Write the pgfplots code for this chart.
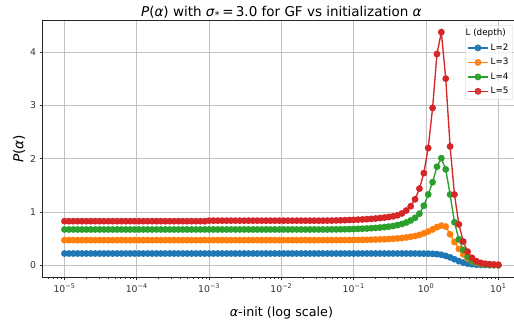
\documentclass[border=0pt]{standalone}
\usepackage{fontspec}
\setmainfont{DejaVu Sans}
\usepackage{pgfplots}
\usepackage{pgfplotstable}
\pgfplotsset{compat=1.18}
\definecolor{c0}{HTML}{1F77B4}
\definecolor{c1}{HTML}{FF7F0E}
\definecolor{c2}{HTML}{2CA02C}
\definecolor{c3}{HTML}{D62728}
\pgfplotstableread{
a b c d e
1.000e-5 0.225 0.475 0.675 0.830
1.150e-5 0.225 0.475 0.675 0.830
1.322e-5 0.225 0.475 0.675 0.830
1.520e-5 0.225 0.475 0.675 0.830
1.748e-5 0.225 0.475 0.675 0.830
2.009e-5 0.225 0.475 0.675 0.830
2.310e-5 0.225 0.475 0.675 0.830
2.656e-5 0.225 0.475 0.675 0.830
3.054e-5 0.225 0.475 0.675 0.830
3.511e-5 0.225 0.475 0.675 0.830
4.037e-5 0.225 0.475 0.675 0.830
4.642e-5 0.225 0.475 0.675 0.830
5.337e-5 0.225 0.475 0.675 0.830
6.136e-5 0.225 0.475 0.675 0.830
7.055e-5 0.225 0.475 0.675 0.830
8.111e-5 0.225 0.475 0.675 0.830
9.326e-5 0.225 0.475 0.675 0.830
1.072e-4 0.225 0.475 0.675 0.830
1.233e-4 0.225 0.475 0.675 0.830
1.417e-4 0.225 0.475 0.675 0.830
1.630e-4 0.225 0.475 0.675 0.830
1.874e-4 0.225 0.475 0.675 0.830
2.154e-4 0.225 0.475 0.675 0.830
2.477e-4 0.225 0.475 0.675 0.830
2.848e-4 0.225 0.475 0.675 0.830
3.275e-4 0.225 0.475 0.675 0.830
3.765e-4 0.225 0.475 0.675 0.830
4.329e-4 0.225 0.475 0.675 0.830
4.977e-4 0.225 0.475 0.675 0.830
5.722e-4 0.225 0.475 0.675 0.830
6.579e-4 0.225 0.475 0.675 0.830
7.565e-4 0.225 0.475 0.675 0.830
8.697e-4 0.225 0.475 0.675 0.830
1.000e-3 0.225 0.475 0.675 0.840
1.150e-3 0.225 0.475 0.675 0.840
1.322e-3 0.225 0.475 0.675 0.840
1.520e-3 0.225 0.475 0.675 0.840
1.748e-3 0.225 0.475 0.675 0.840
2.009e-3 0.225 0.475 0.675 0.840
2.310e-3 0.225 0.475 0.675 0.840
2.656e-3 0.225 0.475 0.675 0.840
3.054e-3 0.225 0.475 0.675 0.840
3.511e-3 0.225 0.475 0.675 0.840
4.037e-3 0.225 0.475 0.675 0.840
4.642e-3 0.225 0.475 0.675 0.840
5.337e-3 0.225 0.475 0.675 0.840
6.136e-3 0.225 0.475 0.675 0.840
7.055e-3 0.225 0.475 0.675 0.840
8.111e-3 0.225 0.475 0.675 0.840
9.326e-3 0.225 0.475 0.675 0.840
1.072e-2 0.225 0.475 0.675 0.840
1.233e-2 0.225 0.475 0.675 0.840
1.417e-2 0.225 0.475 0.675 0.840
1.630e-2 0.225 0.475 0.675 0.840
1.874e-2 0.225 0.475 0.675 0.840
2.154e-2 0.225 0.475 0.675 0.840
2.477e-2 0.225 0.475 0.675 0.840
2.848e-2 0.225 0.475 0.675 0.840
3.275e-2 0.225 0.475 0.675 0.840
3.765e-2 0.225 0.475 0.675 0.840
4.329e-2 0.225 0.475 0.675 0.841
4.977e-2 0.225 0.475 0.676 0.842
5.722e-2 0.225 0.476 0.677 0.844
6.579e-2 0.225 0.476 0.678 0.846
7.565e-2 0.225 0.477 0.679 0.849
8.697e-2 0.225 0.477 0.681 0.852
0.1000 0.225 0.478 0.683 0.855
0.1150 0.225 0.479 0.686 0.859
0.1322 0.225 0.480 0.689 0.863
0.1520 0.225 0.482 0.693 0.868
0.1748 0.225 0.484 0.698 0.874
0.2009 0.225 0.486 0.704 0.881
0.2310 0.225 0.489 0.711 0.889
0.2656 0.225 0.492 0.719 0.898
0.3054 0.225 0.496 0.729 0.909
0.3511 0.225 0.501 0.741 0.922
0.4037 0.225 0.507 0.757 0.940
0.4642 0.225 0.515 0.778 0.975
0.5337 0.225 0.525 0.806 1.030
0.6136 0.225 0.538 0.843 1.110
0.7055 0.225 0.553 0.893 1.240
0.8111 0.224 0.574 0.970 1.440
0.9326 0.223 0.602 1.120 1.730
1.072 0.222 0.636 1.330 2.200
1.233 0.219 0.676 1.560 2.950
1.417 0.213 0.718 1.850 3.960
1.630 0.201 0.748 2.010 4.370
1.874 0.181 0.730 1.800 3.500
2.154 0.152 0.585 1.330 2.230
2.477 0.117 0.440 0.810 1.330
2.848 0.082 0.310 0.490 0.770
3.275 0.055 0.208 0.290 0.450
3.765 0.036 0.133 0.165 0.260
4.329 0.024 0.082 0.095 0.145
4.977 0.016 0.050 0.057 0.082
5.722 0.011 0.031 0.036 0.050
6.579 0.008 0.020 0.024 0.034
7.565 0.006 0.013 0.017 0.025
8.697 0.005 0.009 0.013 0.019
10.00 0.004 0.007 0.010 0.015
}\data
\begin{document}
\begin{tikzpicture}[x=1pt,y=1pt]
\begin{axis}[
  at={(42.8pt,42.8pt)}, anchor=south west,
  scale only axis, width=477.2pt, height=256.8pt,
  xmode=log, xmin=5.0119e-6, xmax=19.953, ymin=-0.2185, ymax=4.59,
  xtick={1e-5,1e-4,1e-3,1e-2,1e-1,1,10},
  xticklabels={10\textsuperscript{−5},10\textsuperscript{−4},10\textsuperscript{−3},10\textsuperscript{−2},10\textsuperscript{−1},10\textsuperscript{0},10\textsuperscript{1}},
  minor xtick={6e-6,7e-6,8e-6,9e-6,
    2e-5,3e-5,4e-5,5e-5,6e-5,7e-5,8e-5,9e-5,
    2e-4,3e-4,4e-4,5e-4,6e-4,7e-4,8e-4,9e-4,
    2e-3,3e-3,4e-3,5e-3,6e-3,7e-3,8e-3,9e-3,
    2e-2,3e-2,4e-2,5e-2,6e-2,7e-2,8e-2,9e-2,
    2e-1,3e-1,4e-1,5e-1,6e-1,7e-1,8e-1,9e-1,
    2,3,4,5,6,7,8,9},
  ytick={0,1,2,3,4},
  /pgf/number format/assume math mode=true,
  tick label style={font=\fontsize{9.3}{11}\selectfont, text=black!80},
  xtick pos=lower, ytick pos=left,
  tick align=outside,
  major tick length=3.2pt, minor tick length=1.8pt,
  every tick/.style={black!80, line width=0.7pt},
  minor tick style={black!80, line width=0.5pt},
  grid=major,
  major grid style={line width=0.7pt, color=black!24},
  axis line style={black!85, line width=0.72pt},
  title={\textit{P}(\textit{α}) with \textit{σ}\textsubscript{*}\,=\,3.0 for GF vs initialization \textit{α}},
  title style={at={(axis description cs:0.5,1)}, anchor=base, yshift=-2.1pt, font=\fontsize{13.5}{16}\selectfont},
  xlabel={\textit{α}-init (log scale)},
  xlabel style={at={(axis description cs:0.5,0)}, anchor=base, yshift=-39.5pt, font=\fontsize{12.7}{15}\selectfont},
  ylabel={\textit{P}(\textit{α})},
  ylabel style={at={(axis description cs:-0.0499,0.5)}, anchor=center, font=\fontsize{13.7}{16}\selectfont},
  legend style={at={(axis description cs:0.9847,0.982)}, anchor=north east,
    font=\fontsize{8.8}{10}\selectfont, draw=black!20, rounded corners=2pt,
    fill=white, fill opacity=0.8, text opacity=1, inner sep=2pt, row sep=2.5pt},
  legend cell align=left,
  legend image code/.code={\draw[mark repeat=2,mark phase=2] plot coordinates {(0pt,0pt) (10pt,0pt) (20pt,0pt)};},
]
\addlegendimage{empty legend}
\addlegendentry{\hspace{-25pt}L (depth)}
\addplot[color=c0, line width=1.35pt, mark=*, mark size=2.7pt, mark options={solid}] table[x=a,y=b]{\data};
\addlegendentry{L=2}
\addplot[color=c1, line width=1.35pt, mark=*, mark size=2.7pt, mark options={solid}] table[x=a,y=c]{\data};
\addlegendentry{L=3}
\addplot[color=c2, line width=1.35pt, mark=*, mark size=2.7pt, mark options={solid}] table[x=a,y=d]{\data};
\addlegendentry{L=4}
\addplot[color=c3, line width=1.35pt, mark=*, mark size=2.7pt, mark options={solid}] table[x=a,y=e]{\data};
\addlegendentry{L=5}
\end{axis}
\pgfresetboundingbox
\path[use as bounding box] (0,0) rectangle (514,320);
\end{tikzpicture}
\end{document}
